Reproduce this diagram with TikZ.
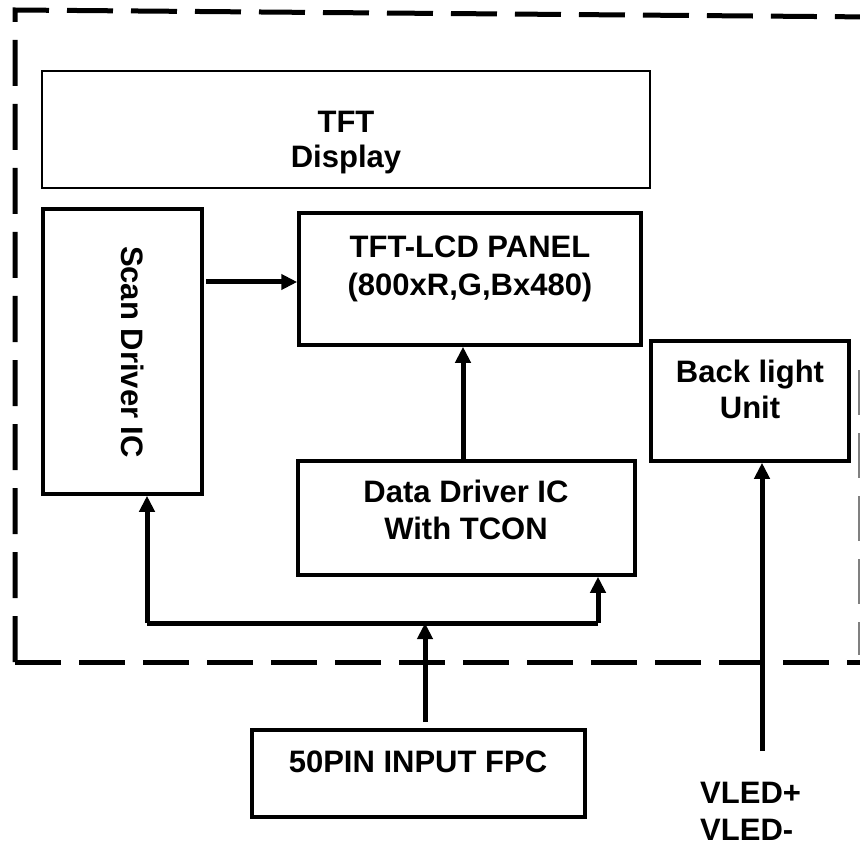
\documentclass[tikz,border=0pt]{standalone}
\usepackage{fontspec}
\setmainfont{Liberation Sans}
\usetikzlibrary{arrows.meta}

\begin{document}
\begin{tikzpicture}[x=1pt,y=-1pt,
    blk/.style={draw, line width=3.5pt, inner sep=0pt},
    thinblk/.style={draw, line width=2pt, inner sep=0pt},
    txt/.style={font=\fontsize{31}{37}\selectfont\bfseries, inner sep=0pt},
    arr/.style={line width=5pt, -{Triangle[length=16pt,width=15pt]}},
    border/.style={line width=5pt, dash pattern=on 46pt off 18pt}]

\useasboundingbox (0,0) rectangle (860,845);

\draw[border] (15,662) -- (15,10) -- (875,17);
\draw[border] (15,662) -- (875,662);
\draw[gray, line width=1.5pt, dash pattern=on 45pt off 18pt] (859,370) -- (859,655);

\node [thinblk, minimum width=608pt, minimum height=117pt] (tft) at (346,129.5){};
\node [blk, minimum width=159pt, minimum height=285pt] (scan) at (122.5,351.5){};
\node [blk, minimum width=342pt, minimum height=132pt] (panel) at (470,279){};
\node [blk, minimum width=337pt, minimum height=114pt] (data) at (466.5,518){};
\node [blk, minimum width=198pt, minimum height=120pt] (bl) at (750,401){};
\node [blk, minimum width=333pt, minimum height=87pt] (fpc) at (418.5,773.5){};

\node [txt, anchor=base] (tftA) at (346,133){TFT};
\node [txt, anchor=base] (tftB) at (346,168){Display};
\node [txt, rotate=-90] (scanT) at (133,352){Scan Driver IC};
\node [txt, anchor=base] (panelA) at (470,258){TFT-LCD PANEL};
\node [txt, anchor=base] (panelB) at (470,296){(800xR,G,Bx480)};
\node [txt, anchor=base] (dataA) at (466,502){Data Driver IC};
\node [txt, anchor=base] (dataB) at (466,539){With TCON};
\node [txt, anchor=base] (blA) at (750,382){Back light};
\node [txt, anchor=base] (blB) at (750,418){Unit};
\node [txt, anchor=base] (fpcT) at (418,772){50PIN INPUT FPC};
\node [txt, anchor=base west] (vledP) at (700,803){VLED+};
\node [txt, anchor=base west] (vledM) at (700,840){VLED-};

\coordinate (busL) at (147,623);
\coordinate (busM) at (425,623);
\coordinate (busR) at (598,623);
\coordinate (sp) at (206,282);
\coordinate (dp) at (463,400);
\coordinate (fpcTop) at (425,722);
\coordinate (vled) at (762,751);

\draw[arr] (sp) -- (panel.west |- sp);
\draw[arr] (data.north -| dp) -- (panel.south -| dp);
\draw[line width=5pt] (busL) -- (busR);
\draw[arr] (busL) -- (scan.south -| busL);
\draw[arr] (busR) -- (data.south -| busR);
\draw[arr] (fpcTop) -- (busM);
\draw[arr] (vled) -- (bl.south -| vled);
\end{tikzpicture}
\end{document}
